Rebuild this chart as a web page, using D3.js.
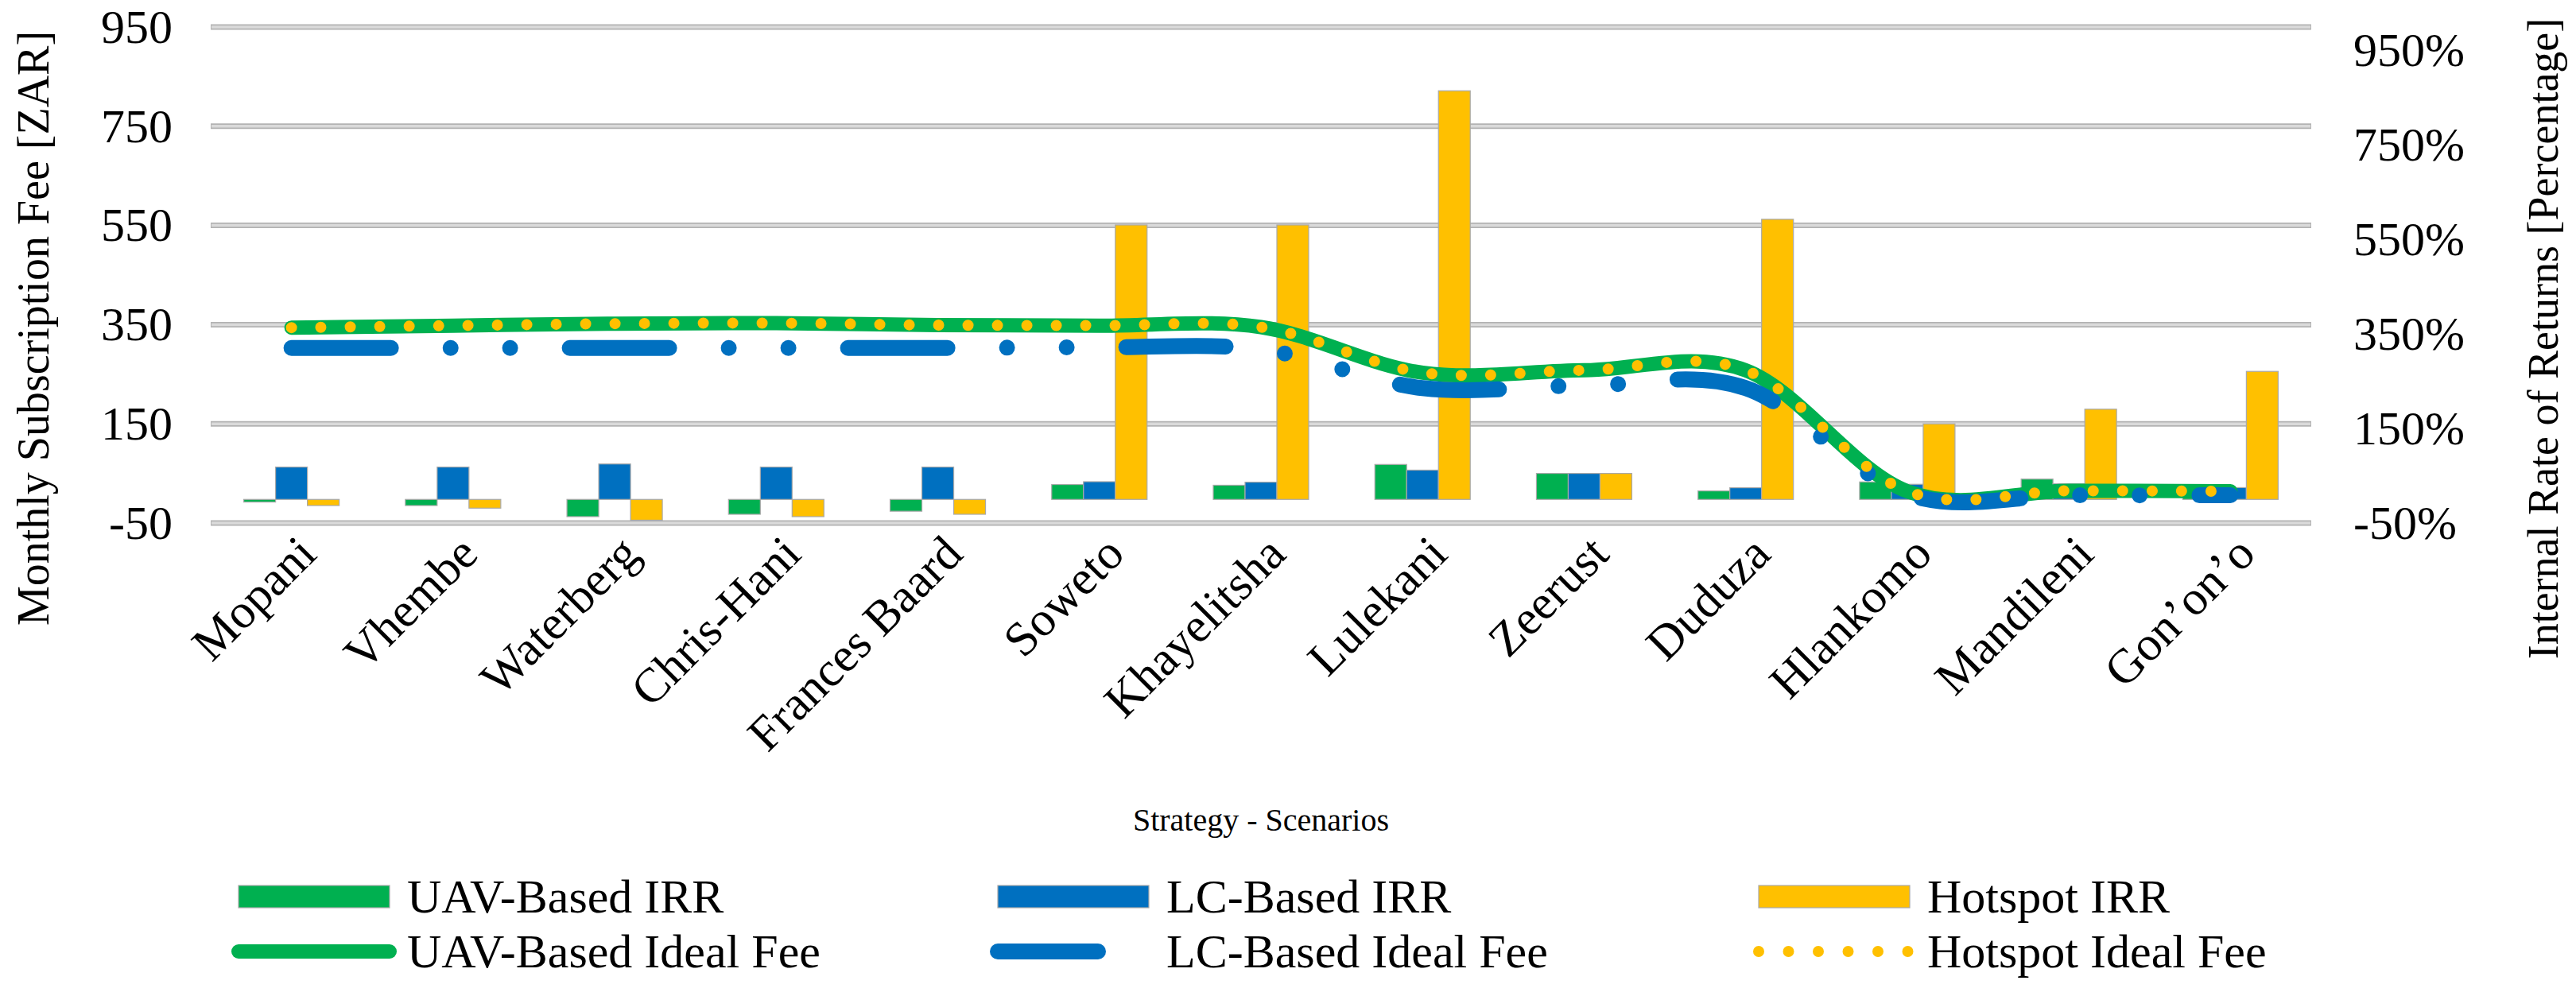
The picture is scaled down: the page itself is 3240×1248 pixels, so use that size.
<!DOCTYPE html>
<html><head><meta charset="utf-8">
<script src="https://cdn.jsdelivr.net/npm/d3@7"></script>
<style>
body{margin:0;background:#fff}
svg{display:block}
text{font-family:"Liberation Serif","Times New Roman",serif;fill:#000}
</style>
</head><body>
<svg id="chart" width="3240" height="1248"></svg>
<script>
// ---- data ----
const categories = ["Mopani","Vhembe","Waterberg","Chris-Hani","Frances Baard","Soweto","Khayelitsha","Lulekani","Zeerust","Duduza","Hlankomo","Mandileni","Gon\u2019on\u2019o"];
const uavIRR = [-5.6,-13,-36.5,-31.5,-25,31.5,30,74,55,18,37,43,30];
const lcIRR  = [68.5,68.5,75,68.5,68.5,37.5,36.5,62,55,24.7,32,33,25];
const hotIRR = [-13,-18.5,-44,-36.5,-31.5,581,581,865,55,593,160,191,271];
const uavFee = [344,348,352,353,349,348,345,253,258,258,14,15,14];
const lcFee  = [303,303,303,303,303,304,300,222,227,222,8,6,6];
const hotFee = [344,348,352,353,349,348,345,253,258,258,14,15,14];
const leftTicks  = [-50,150,350,550,750,950];
const rightTicks = [-50,150,350,550,750,950];
const seriesNames = ["UAV-Based IRR","LC-Based IRR","Hotspot IRR","UAV-Based Ideal Fee","LC-Based Ideal Fee","Hotspot Ideal Fee"];
const xTitle = "Strategy - Scenarios";
const yLeftTitle = "Monthly Subscription Fee [ZAR]";
const yRightTitle = "Internal Rate of Returns [Percentage]";

// ---- styling ----
const GREEN = "#00b050", BLUE = "#0070c0", YELLOW = "#ffc000";
const svg = d3.select("#chart");
const L = 265, R = 2907, T = 34, B = 658;

const x = d3.scaleBand().domain(categories).range([L, R]).padding(0);
const groupW = 120;
const xs = d3.scaleBand().domain(["uav","lc","hot"]).range([0, groupW]);
const yL = d3.scaleLinear().domain([-50, 950]).range([B, T]);
const yR = d3.scaleLinear().domain([-50, 1000]).range([B, T]);
const cx = c => x(c) + x.bandwidth() / 2;

// gridlines
const grid = svg.append("g");
leftTicks.forEach(v => {
  grid.append("line").attr("x1", L).attr("x2", R).attr("y1", yL(v)).attr("y2", yL(v))
    .attr("stroke", "#b3b3b3").attr("stroke-width", 7);
  grid.append("line").attr("x1", L + 1).attr("x2", R - 1).attr("y1", yL(v)).attr("y2", yL(v))
    .attr("stroke", "#dadada").attr("stroke-width", 3.5);
});

// bars
const barData = [];
categories.forEach((c, i) => {
  barData.push({c, k: "uav", v: uavIRR[i], col: GREEN});
  barData.push({c, k: "lc", v: lcIRR[i], col: BLUE});
  barData.push({c, k: "hot", v: hotIRR[i], col: YELLOW});
});
svg.append("g").selectAll("rect").data(barData).join("rect")
  .attr("x", d => x(d.c) + (x.bandwidth() - groupW) / 2 + xs(d.k))
  .attr("width", xs.bandwidth())
  .attr("y", d => Math.min(yR(0), yR(d.v)))
  .attr("height", d => Math.abs(yR(d.v) - yR(0)))
  .attr("fill", d => d.col)
  .attr("stroke", "#a9a9a9").attr("stroke-width", 1.2);

// lines
const line = d3.line().x((d, i) => cx(categories[i])).y(d => yL(d)).curve(d3.curveCardinal.tension(0));
svg.append("path").attr("d", line(uavFee)).attr("fill", "none")
  .attr("stroke", GREEN).attr("stroke-width", 18).attr("stroke-linecap", "round").attr("stroke-linejoin", "round");
svg.append("path").attr("d", line(lcFee)).attr("fill", "none")
  .attr("stroke", BLUE).attr("stroke-width", 20).attr("stroke-linecap", "round")
  .attr("stroke-dasharray", "125 75 0 75 0 75");
svg.append("path").attr("d", line(hotFee)).attr("fill", "none")
  .attr("stroke", YELLOW).attr("stroke-width", 14).attr("stroke-linecap", "round")
  .attr("stroke-dasharray", "0 37");

// axes
const axL = svg.append("g").attr("transform", `translate(${L},0)`)
  .call(d3.axisLeft(yL).tickValues(leftTicks).tickSize(0).tickPadding(48).tickFormat(d => String(d)));
const axR = svg.append("g").attr("transform", `translate(${R},0)`)
  .call(d3.axisRight(yR).tickValues(rightTicks).tickSize(0).tickPadding(53).tickFormat(d => String(d) + "%"));
[axL, axR].forEach(a => {
  a.select(".domain").remove();
  a.attr("font-family", "Liberation Serif, Times New Roman, serif").attr("font-size", 60);
  a.selectAll("text").attr("fill", "#000");
});

// x labels
svg.append("g").selectAll("text").data(categories).join("text")
  .attr("transform", d => `translate(${cx(d) + 34},${700}) rotate(-45)`)
  .attr("text-anchor", "end").attr("font-size", 61).text(d => d);

// titles
svg.append("text").attr("transform", "translate(61,413) rotate(-90)")
  .attr("text-anchor", "middle").attr("font-size", 56).text(yLeftTitle);
svg.append("text").attr("transform", "translate(3217,426) rotate(-90)")
  .attr("text-anchor", "middle").attr("font-size", 54).text(yRightTitle);
svg.append("text").attr("x", (L + R) / 2).attr("y", 1045)
  .attr("text-anchor", "middle").attr("font-size", 40).text(xTitle);

// legend
const lg = svg.append("g");
const cols = [300, 1255, 2212];
const row1 = 1128, row2 = 1197, sw = 190;
[GREEN, BLUE, YELLOW].forEach((col, i) => {
  lg.append("rect").attr("x", cols[i]).attr("y", row1 - 14).attr("width", sw).attr("height", 28)
    .attr("fill", col).attr("stroke", "#a9a9a9").attr("stroke-width", 1.2);
  lg.append("text").attr("x", cols[i] + sw + 22).attr("y", row1 + 20).attr("font-size", 60).text(seriesNames[i]);
});
lg.append("line").attr("x1", cols[0]).attr("x2", cols[0] + sw).attr("y1", row2).attr("y2", row2)
  .attr("stroke", GREEN).attr("stroke-width", 18).attr("stroke-linecap", "round");
lg.append("line").attr("x1", cols[1]).attr("x2", cols[1] + 126).attr("y1", row2).attr("y2", row2)
  .attr("stroke", BLUE).attr("stroke-width", 20).attr("stroke-linecap", "round");
lg.append("line").attr("x1", cols[2]).attr("x2", cols[2] + sw).attr("y1", row2).attr("y2", row2)
  .attr("stroke", YELLOW).attr("stroke-width", 14).attr("stroke-linecap", "round").attr("stroke-dasharray", "0 37.5");
[3, 4, 5].forEach((s, i) => {
  lg.append("text").attr("x", cols[i] + sw + 22).attr("y", row2 + 20).attr("font-size", 60).text(seriesNames[s]);
});
</script>
</body></html>
